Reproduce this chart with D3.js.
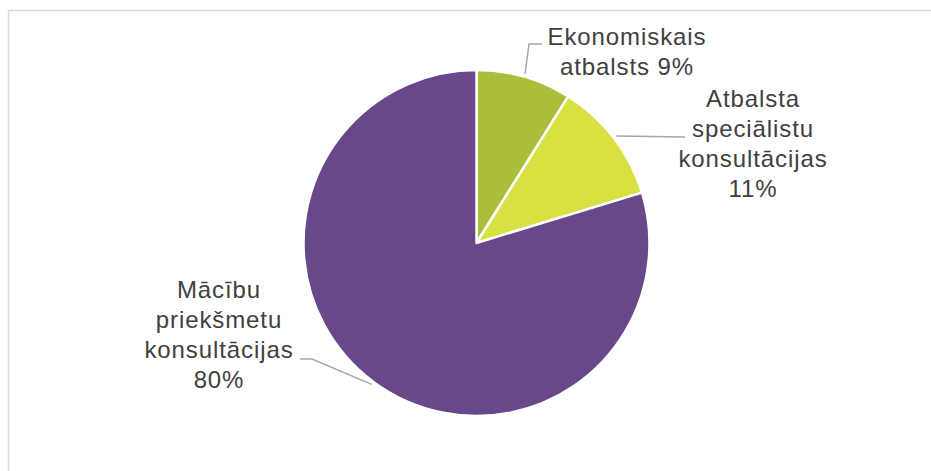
<!DOCTYPE html>
<meta charset="utf-8">
<script src="https://d3js.org/d3.v7.min.js"></script>
<style>
body { margin: 0; background: #fff; }
.lbl { font-family: "Liberation Sans", Arial, sans-serif; font-size: 24px; fill: #404040; letter-spacing: 0.9px; }
</style>
<body>
<div id="chart"></div>
<script>
// data (shares; labels show rounded percents)
var categories = ["Ekonomiskais atbalsts", "Atbalsta speciālistu konsultācijas", "Mācību priekšmetu konsultācijas"];
var values = [8.9, 11.4, 79.7];
var nameLines = [["Ekonomiskais", "atbalsts"], ["Atbalsta", "speciālistu", "konsultācijas"], ["Mācību", "priekšmetu", "konsultācijas"]];
var pctOwnLine = [false, true, true];
var colors = ["#abbd3b", "#d9e042", "#68478b"];

// layout
var width = 931, height = 471;
var cx = 476.5, cy = 243, radius = 173;
// label centre x / first baseline, and leader path (elbow, end)
var labelPos = [[627, 45], [753, 107], [219, 298]];
var leaderPts = [[[529, 44], [542, 44]], [[685, 137]], [[312, 359], [300, 359]]];
var lineH = 30;

var svg = d3.select("#chart").append("svg")
  .attr("width", width)
  .attr("height", height);

// chart area border
svg.append("rect")
  .attr("x", 8.5).attr("y", 10.5)
  .attr("width", 1000).attr("height", 1000)
  .attr("fill", "none")
  .attr("stroke", "#d9d9d9")
  .attr("stroke-width", 1.5);

var pie = d3.pie().sort(null).value(function(d) { return d; });
var arcs = pie(values);
var arc = d3.arc().innerRadius(0).outerRadius(radius);

var g = svg.append("g").attr("transform", "translate(" + cx + "," + cy + ")");

g.selectAll("path.slice")
  .data(arcs)
  .enter().append("path")
    .attr("class", "slice")
    .attr("d", arc)
    .attr("fill", function(d, i) { return colors[i]; })
    .attr("stroke", "#fff")
    .attr("stroke-width", 2.5)
    .attr("stroke-linejoin", "round");

// leader lines
arcs.forEach(function(d, i) {
  var a = (d.startAngle + d.endAngle) / 2;
  var r = radius + 3;
  var start = [cx + Math.sin(a) * r, cy - Math.cos(a) * r];
  var pts = [start].concat(leaderPts[i]);
  svg.append("path")
    .attr("d", d3.line()(pts))
    .attr("fill", "none")
    .attr("stroke", "#a6a6a6")
    .attr("stroke-width", 1.5);
});

// labels
arcs.forEach(function(d, i) {
  var lines = nameLines[i].slice();
  var pct = Math.round(values[i] / d3.sum(values) * 100) + "%";
  if (pctOwnLine[i]) lines.push(pct);
  else lines[lines.length - 1] += " " + pct;
  var t = svg.append("text")
    .attr("class", "lbl")
    .attr("text-anchor", "middle");
  lines.forEach(function(s, j) {
    t.append("tspan")
      .attr("x", labelPos[i][0])
      .attr("y", labelPos[i][1] + j * lineH)
      .text(s);
  });
});
</script>
</body>
